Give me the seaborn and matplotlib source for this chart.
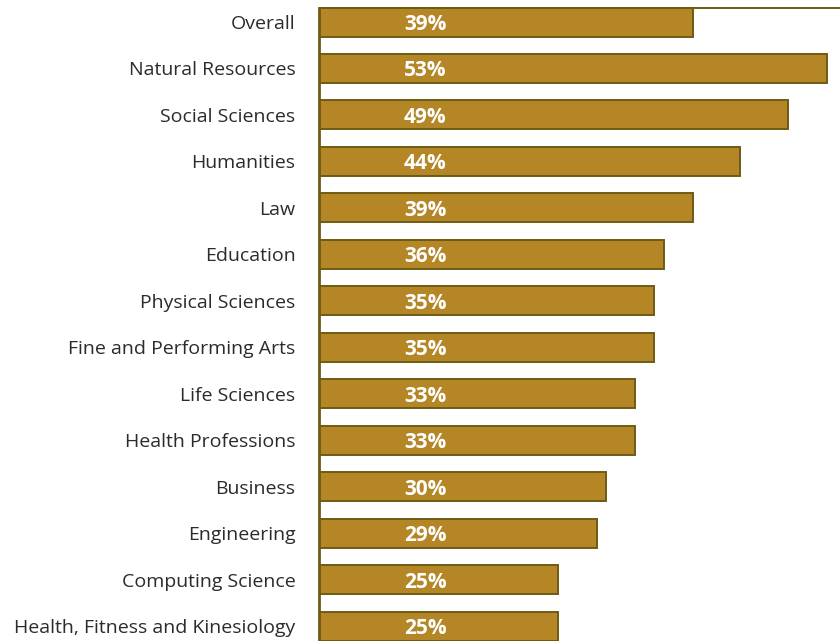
import matplotlib
matplotlib.use("Agg")
import matplotlib.pyplot as plt
import seaborn as sns
import pandas as pd

categories = [
    "Overall", "Natural Resources", "Social Sciences", "Humanities", "Law",
    "Education", "Physical Sciences", "Fine and Performing Arts",
    "Life Sciences", "Health Professions", "Business", "Engineering",
    "Computing Science", "Health, Fitness and Kinesiology",
]
percentages = [39, 53, 49, 44, 39, 36, 35, 35, 33, 33, 30, 29, 25, 25]

BAR_COLOR = "#B58626"
EDGE_COLOR = "#6E5B14"
BAR_WIDTH = 0.625

sns.set_theme(style="white")
plt.rcParams["font.family"] = ["Open Sans", "DejaVu Sans"]

df = pd.DataFrame({"category": categories, "pct": percentages})

fig = plt.figure(figsize=(8.4, 6.41), dpi=100)
ax = fig.add_axes([319 / 840, 0, 1 - 319 / 840, 1])

sns.barplot(data=df, x="pct", y="category", orient="h", color=BAR_COLOR,
            saturation=1, edgecolor=EDGE_COLOR, linewidth=1.4,
            width=BAR_WIDTH, ax=ax)

ax.set_xlim(0, 54.4)
y_bottom = len(categories) - 1 + 0.32
ax.set_ylim(y_bottom, -0.474)

# thin rule along the top edge of the first bar
ax.axhline(-BAR_WIDTH / 2, color=EDGE_COLOR, linewidth=1.4, zorder=3)

for i, v in enumerate(percentages):
    ax.text(11.07, i, f"{v}%", ha="center", va="center_baseline",
            color="white", fontsize=15, fontweight="bold")

ax.set_xlabel("")
ax.set_ylabel("")
ax.set_xticks([])
ax.tick_params(axis="y", length=0, pad=17, labelsize=14, labelcolor="#2b2b2b")
for s in ["top", "right", "bottom"]:
    ax.spines[s].set_visible(False)
ax.spines["left"].set_color(EDGE_COLOR)
ax.spines["left"].set_linewidth(2)
ax.spines["left"].set_bounds(-BAR_WIDTH / 2, y_bottom)

fig.savefig("out.png", dpi=100)
